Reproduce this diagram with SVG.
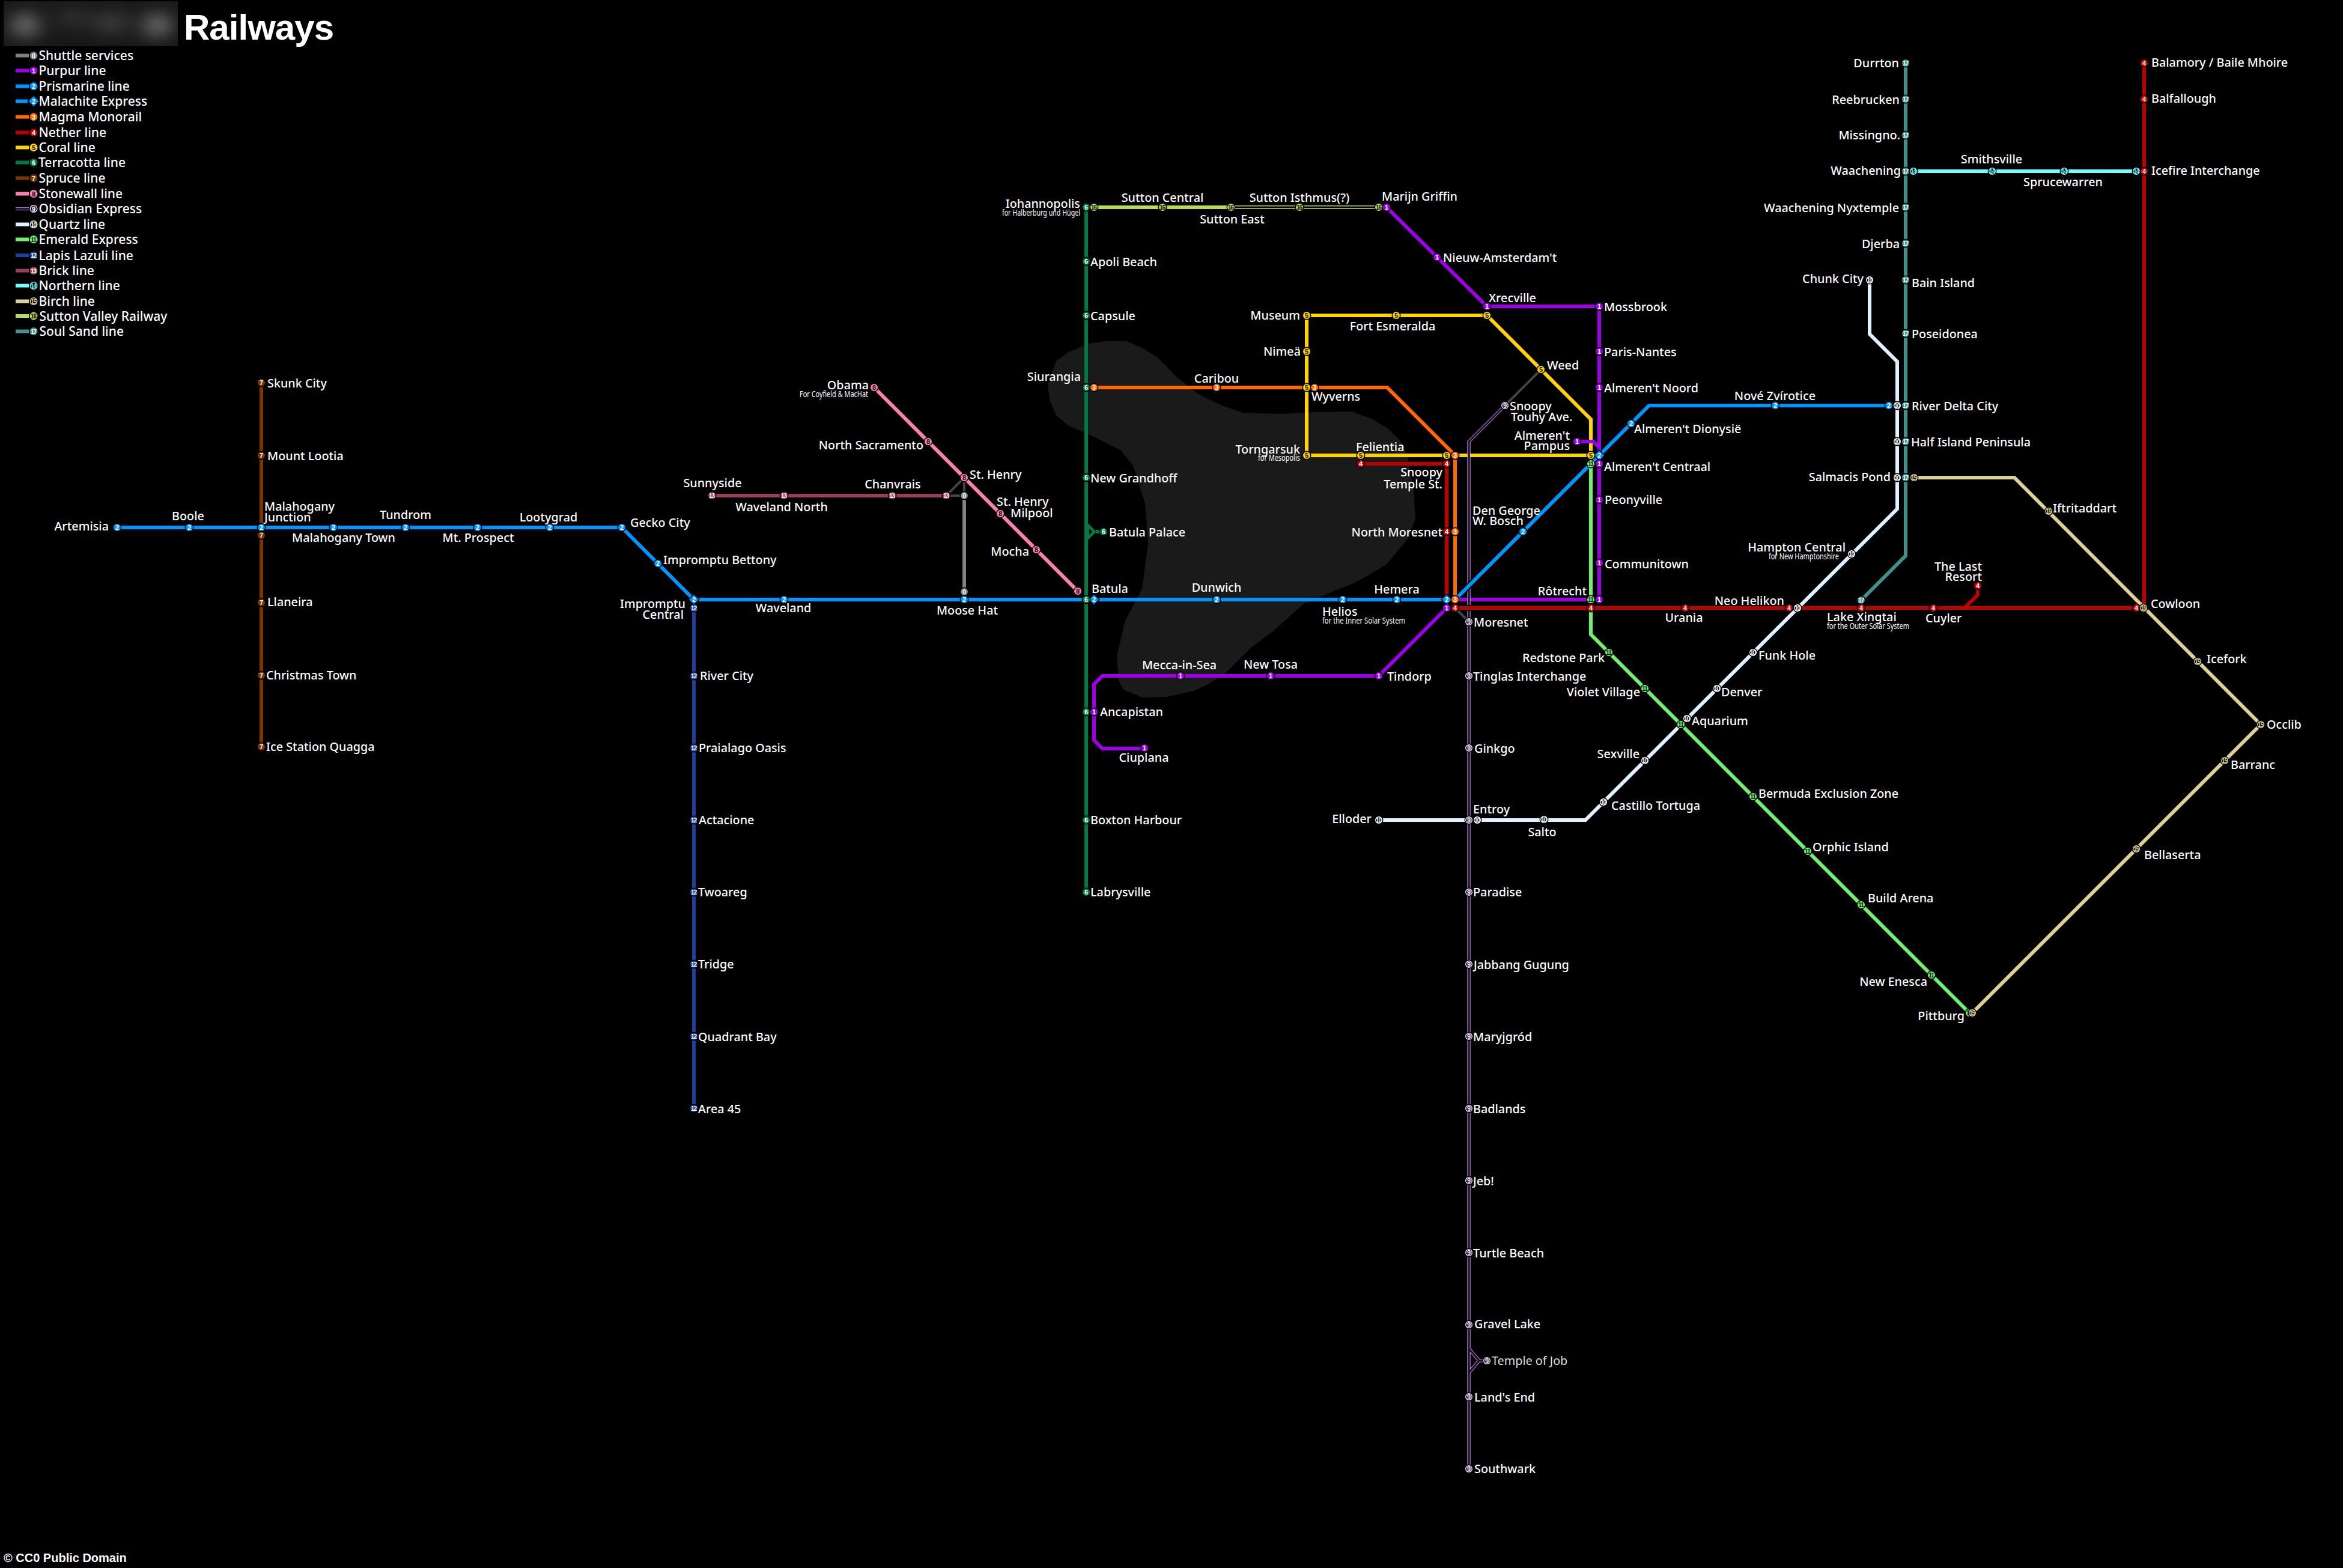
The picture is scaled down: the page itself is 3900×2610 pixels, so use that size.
<svg xmlns="http://www.w3.org/2000/svg" width="3900" height="2610" viewBox="0 0 3900 2610">
<style>
text{font-family:"Noto Sans","Liberation Sans",sans-serif}
.l{fill:#fff;font-size:19.8px;font-weight:500}
.s{fill:#fff;font-size:14px}
.m{text-anchor:middle}
.e{text-anchor:end}
.lg{fill:#fff;font-size:21px;font-weight:500}
.d{font-family:"Liberation Sans",sans-serif;font-weight:700;font-size:11px;text-anchor:middle;fill:#fff}
.t{font-size:10px;letter-spacing:-1px}
circle,polygon{stroke:#000;stroke-width:3px;paint-order:stroke}
.i{stroke:none;fill:#000}
.k{fill:none;stroke-linejoin:miter;stroke-width:6px}
.c0{stroke:#808080}.c1{stroke:#9b00e6}.c2{stroke:#0096ff}.c3{stroke:#ff6a00}.c4{stroke:#c00000}.c5{stroke:#ffd500}.c6{stroke:#007a45}.c7{stroke:#7a3600}.c8{stroke:#ff80b0}.c9{stroke:#c8b8d8;stroke-width:5.2px}.c10{stroke:#e0f2ff}.c11{stroke:#70f070}.c12{stroke:#2040a0}.c13{stroke:#964055}.c14{stroke:#70ffff}.c15{stroke:#dcd296}.c16{stroke:#b8dc5a}.c17{stroke:#409090}
.in9{stroke:#2b0a3d;stroke-width:3.6px}.in16{stroke:#000;stroke-width:3px}.halo{stroke:#000;stroke-width:10px}.link{stroke:#444;stroke-width:4px}
.n0>circle:first-of-type{fill:#808080}.n1>circle:first-of-type{fill:#9b00e6}.n2>circle:first-of-type,.n2>polygon{fill:#0096ff}.n3>circle:first-of-type{fill:#ff6a00}.n4>circle:first-of-type{fill:#c00000}.n5>circle:first-of-type{fill:#ffd500}.n6>circle:first-of-type{fill:#007a45}.n7>circle:first-of-type{fill:#7a3600}.n8>circle:first-of-type{fill:#ff80b0}.n9>circle:first-of-type{fill:#e8dcf0}.n10>circle:first-of-type{fill:#fff}.n11>circle:first-of-type{fill:#70f070}.n12>circle:first-of-type{fill:#2040a0}.n13>circle:first-of-type{fill:#964055}.n14>circle:first-of-type{fill:#70ffff}.n15>circle:first-of-type{fill:#dcd296}.n16>circle:first-of-type{fill:#b8dc5a}.n17>circle:first-of-type{fill:#409090}
.n5 .d,.n8 .d,.n11 .d,.n16 .d{fill:#111}
.n9 .i{fill:#2b0a3d}.n14 .d{fill:#70ffff}.n15 .d{fill:#dcd296}
</style>
<defs>
<filter id="blur" x="-50%" y="-50%" width="200%" height="200%"><feGaussianBlur stdDeviation="15"/></filter>
<clipPath id="blockclip"><rect x="6" y="2" width="290" height="75"/></clipPath>
</defs>
<rect width="3900" height="2610" fill="#000"/>
<path id="island" fill="#1a1a1a" d="M1744,642 L1758,601 1779,586 1812,572 1840,568 1875,568 1901,579 1927,595 1957,626 1993,655 2034,675 2069,687 2131,689 2187,686 2250,685 2283,697 2310,713 2330,733 2343,760 2353,817 2356,863 2343,897 2307,940 2270,962 2250,972 2170,1005 2120,1050 2080,1080 2040,1120 2013,1138 1987,1150 1942,1160 1902,1161 1870,1148 1862,1133 1859,1093 1861,1083 1873,1033 1901,980 1911,905 1906,838 1886,775 1865,749 1819,726 1779,709 1758,691 1748,668 Z"/>
<g id="title">
<g clip-path="url(#blockclip)"><rect x="6" y="2" width="290" height="75" fill="#181818"/><g filter="url(#blur)" fill="#808080"><ellipse cx="42" cy="42" rx="26" ry="15"/><ellipse cx="262" cy="42" rx="26" ry="15"/><ellipse cx="120" cy="30" rx="30" ry="10" fill="#3c3c3c"/><ellipse cx="185" cy="38" rx="35" ry="12" fill="#484848"/></g></g>
<text x="306" y="66" font-size="60" font-weight="700" fill="#fff" textLength="250" style="font-family:'Liberation Sans',sans-serif">Railways</text>
</g>
<g id="legend">
<g id="lg0" class="n0"><path class="k c0" d="M26,92.5H48"/><circle cx="56" cy="92.5" r="6.5"/><text class="d" x="56" y="96.5">0</text><text class="lg" x="64.5" y="100">Shuttle services</text></g>
<g id="lg1" class="n1"><path class="k c1" d="M26,117.5H48"/><circle cx="56" cy="117.5" r="6.5"/><text class="d" x="56" y="121.5">1</text><text class="lg" x="64.5" y="125">Purpur line</text></g>
<g id="lg2" class="n2"><path class="k c2" d="M26,143.5H48"/><circle cx="56" cy="143.5" r="6.5"/><text class="d" x="56" y="147.5">2</text><text class="lg" x="64.5" y="151">Prismarine line</text></g>
<g id="lg2x" class="n2"><path class="k c2" d="M26,168.5H46"/><polygon points="56,160 64.5,168.5 56,177 47.5,168.5"/><text class="d" x="56" y="172.5">2</text><text class="lg" x="64.5" y="176">Malachite Express</text></g>
<g id="lg3" class="n3"><path class="k c3" d="M26,194.5H48"/><circle cx="56" cy="194.5" r="6.5"/><text class="d" x="56" y="198.5">3</text><text class="lg" x="64.5" y="202">Magma Monorail</text></g>
<g id="lg4" class="n4"><path class="k c4" d="M26,220.5H48"/><circle cx="56" cy="220.5" r="6.5"/><text class="d" x="56" y="224.5">4</text><text class="lg" x="64.5" y="228">Nether line</text></g>
<g id="lg5" class="n5"><path class="k c5" d="M26,245.5H48"/><circle cx="56" cy="245.5" r="6.5"/><text class="d" x="56" y="249.5">5</text><text class="lg" x="64.5" y="253">Coral line</text></g>
<g id="lg6" class="n6"><path class="k c6" d="M26,270.5H48"/><circle cx="56" cy="270.5" r="6.5"/><text class="d" x="56" y="274.5">6</text><text class="lg" x="64" y="278">Terracotta line</text></g>
<g id="lg7" class="n7"><path class="k c7" d="M26,296.5H48"/><circle cx="56" cy="296.5" r="6.5"/><text class="d" x="56" y="300.5">7</text><text class="lg" x="64.5" y="304">Spruce line</text></g>
<g id="lg8" class="n8"><path class="k c8" d="M26,322.5H48"/><circle cx="56" cy="322.5" r="6.5"/><text class="d" x="56" y="326.5">8</text><text class="lg" x="64.5" y="330">Stonewall line</text></g>
<g id="lg9" class="n9"><path class="k c9" d="M26,347.5H48"/><path class="k in9" d="M26,347.5H48"/><circle cx="56" cy="347.5" r="6.5"/><circle class="i" cx="56" cy="347.5" r="5"/><text class="d" x="56" y="351.5">9</text><text class="lg" x="64.5" y="355">Obsidian Express</text></g>
<g id="lg10" class="n10"><path class="k c10" d="M26,373.5H48"/><circle cx="56" cy="373.5" r="6.5"/><circle class="i" cx="56" cy="373.5" r="5"/><text class="d t" x="55.5" y="377.5">10</text><text class="lg" x="64.5" y="381">Quartz line</text></g>
<g id="lg11" class="n11"><path class="k c11" d="M26,398.5H48"/><circle cx="56" cy="398.5" r="6.5"/><text class="d t" x="55.5" y="402.5">11</text><text class="lg" x="64.5" y="406">Emerald Express</text></g>
<g id="lg12" class="n12"><path class="k c12" d="M26,425H48"/><circle cx="56" cy="425" r="6.5"/><text class="d t" x="55.5" y="429">12</text><text class="lg" x="64.5" y="432.5">Lapis Lazuli line</text></g>
<g id="lg13" class="n13"><path class="k c13" d="M26,450.5H48"/><circle cx="56" cy="450.5" r="6.5"/><text class="d t" x="55.5" y="454.5">13</text><text class="lg" x="64.5" y="458">Brick line</text></g>
<g id="lg14" class="n14"><path class="k c14" d="M26,475.5H48"/><circle cx="56" cy="475.5" r="6.5"/><circle class="i" cx="56" cy="475.5" r="5"/><text class="d t" x="55.5" y="479.5">14</text><text class="lg" x="64.5" y="483">Northern line</text></g>
<g id="lg15" class="n15"><path class="k c15" d="M26,501.5H48"/><circle cx="56" cy="501.5" r="6.5"/><circle class="i" cx="56" cy="501.5" r="5"/><text class="d t" x="55.5" y="505.5">15</text><text class="lg" x="64.5" y="509">Birch line</text></g>
<g id="lg16" class="n16"><path class="k c16" d="M26,526H48"/><circle cx="56" cy="526" r="6.5"/><text class="d t" x="55.5" y="530">16</text><text class="lg" x="65.5" y="533.5">Sutton Valley Railway</text></g>
<g id="lg17" class="n17"><path class="k c17" d="M26,551.5H48"/><circle cx="56" cy="551.5" r="6.5"/><text class="d t" x="55.5" y="555.5">17</text><text class="lg" x="65.5" y="559">Soul Sand line</text></g>
</g>
<g id="connectors">
<path class="k c5" d="M2175,525V758M2175,525H2475L2648,698V758M2175,758H2648"/>
<path class="k c1" d="M2308,345L2475,510H2662V998H2422M2625,735H2652L2662,745M2408,1012L2295,1125H1835L1821,1139V1232L1835,1246H1905"/>
<path class="k c6" d="M1808,345V1485M1824,885H1837"/>
<path fill="#007a45" fill-rule="evenodd" d="M1808,868L1825,885L1808,902ZM1813,880V890L1818,885Z"/>
<path class="k c3" d="M1821,645H2309L2422,758V998"/>
<path class="k c4" d="M2265,772H2408V998"/>
<path class="k c7" d="M435,637V1243"/>
<path class="k c8" d="M1455,645L1794,984"/>
<path class="k c12" d="M1155,1012V1845"/>
<path class="k c13" d="M1185,825H1575"/>
<path class="k c0" d="M1605,825V985"/>
<path class="link" fill="none" d="M1575,825H1605V795L1575,825M2505,675L2565,615M2422,1012L2445,1035"/>
<path class="k c16" d="M1821,345H2295"/>
<path class="k in16" d="M2056,345H2295"/>
<path class="k c10" d="M2295,1365H2639L3158,847V602L3112,556V466"/>
<path class="k c11" d="M2648,772V1056L3278,1686"/>
<path class="k c14" d="M3185,285H3556"/>
<path class="k c15" d="M3186,795H3353L3763,1206L3283,1686"/>
<path class="k c17" d="M3172,105V925L3098,999"/>
<path class="k c9" d="M2445,2445V735L2505,675M2445,2245L2462,2265L2445,2285M2462,2265H2470"/>
<path class="k in9" d="M2445,2445V735L2505,675M2445,2245L2462,2265L2445,2285M2462,2265H2470"/>
<path class="halo" fill="none" d="M2436,1012H2454M2430,990L2460,960"/>
<path class="k c4" d="M2422,1012H3569V105M3270,1012L3292,990V975"/>
<path class="k c2" d="M195,878H1035L1155,998H2422L2745,675H3144"/>
</g>
<g id="nodes">
<g id="artemisia" class="n2"><circle cx="195" cy="878" r="6"/><text class="d" x="195" y="882">2</text><text class="l e" x="181" y="883">Artemisia</text></g>
<g id="boole" class="n2"><circle cx="315" cy="878" r="6"/><text class="d" x="315" y="882">2</text><text class="l m" x="313" y="866">Boole</text></g>
<g id="malahogany-junction" class="n2"><circle cx="435" cy="878" r="6"/><text class="d" x="435" y="882">2</text><text class="l" x="440" y="850">Malahogany</text><text class="l" x="440" y="868">Junction</text></g>
<g id="malahogany-junction-7" class="n7"><circle cx="435" cy="891" r="6"/><text class="d" x="435" y="895">7</text></g>
<g id="malahogany-town" class="n2"><circle cx="555" cy="878" r="6"/><text class="d" x="555" y="882">2</text><text class="l m" x="572" y="902">Malahogany Town</text></g>
<g id="tundrom" class="n2"><circle cx="675" cy="878" r="6"/><text class="d" x="675" y="882">2</text><text class="l m" x="675" y="864">Tundrom</text></g>
<g id="mt-prospect" class="n2"><circle cx="795" cy="878" r="6"/><text class="d" x="795" y="882">2</text><text class="l m" x="796" y="902">Mt. Prospect</text></g>
<g id="lootygrad" class="n2"><circle cx="915" cy="878" r="6"/><text class="d" x="915" y="882">2</text><text class="l m" x="913" y="868">Lootygrad</text></g>
<g id="gecko-city" class="n2"><circle cx="1035" cy="878" r="6"/><text class="d" x="1035" y="882">2</text><text class="l" x="1049" y="877">Gecko City</text></g>
<g id="impromptu-bettony" class="n2"><circle cx="1095" cy="938" r="6"/><text class="d" x="1095" y="942">2</text><text class="l" x="1104" y="939">Impromptu Bettony</text></g>
<g id="impromptu-central" class="n2"><polygon points="1155,990 1163,998 1155,1006 1147,998"/><text class="d" x="1155" y="1002">2</text><text class="l e" x="1141" y="1012">Impromptu</text><text class="l e" x="1138" y="1030">Central</text></g>
<g id="impromptu-central-12" class="n12"><circle cx="1155" cy="1012" r="6"/><text class="d t" x="1154.5" y="1016">12</text></g>
<g id="waveland" class="n2"><circle cx="1305" cy="998" r="6"/><text class="d" x="1305" y="1002">2</text><text class="l m" x="1304" y="1019">Waveland</text></g>
<g id="moose-hat" class="n2"><circle cx="1605" cy="998" r="6"/><text class="d" x="1605" y="1002">2</text><text class="l m" x="1610" y="1023">Moose Hat</text></g>
<g id="moose-hat-0" class="n0"><circle cx="1605" cy="985" r="6"/><text class="d" x="1605" y="989">0</text></g>
<g id="st-henry-0" class="n0"><circle cx="1605" cy="825" r="6"/><text class="d" x="1605" y="829">0</text></g>
<g id="batula-2" class="n2"><polygon points="1821,990 1829,998 1821,1006 1813,998"/><text class="d" x="1821" y="1002">2</text></g>
<g id="batula" class="n6"><circle cx="1808" cy="998" r="6"/><text class="d" x="1808" y="1002">6</text><text class="l" x="1817" y="987">Batula</text></g>
<g id="dunwich" class="n2"><circle cx="2025" cy="998" r="6"/><text class="d" x="2025" y="1002">2</text><text class="l m" x="2025" y="985">Dunwich</text></g>
<g id="helios" class="n2"><circle cx="2235" cy="998" r="6"/><text class="d" x="2235" y="1002">2</text><text class="l" x="2201" y="1025">Helios</text><text class="s" x="2201" y="1038" textLength="138" lengthAdjust="spacingAndGlyphs">for the Inner Solar System</text></g>
<g id="hemera" class="n2"><circle cx="2325" cy="998" r="6"/><text class="d" x="2325" y="1002">2</text><text class="l m" x="2325" y="988">Hemera</text></g>
<g id="moresnet-2" class="n2"><polygon points="2408,990 2416,998 2408,1006 2400,998"/><text class="d" x="2408" y="1002">2</text></g>
<g id="moresnet-3" class="n3"><circle cx="2422" cy="998" r="6"/><text class="d" x="2422" y="1002">3</text></g>
<g id="moresnet-1" class="n1"><circle cx="2408" cy="1012" r="6"/><text class="d" x="2408" y="1016">1</text></g>
<g id="moresnet-4" class="n4"><circle cx="2422" cy="1012" r="6"/><text class="d" x="2422" y="1016">4</text></g>
<g id="moresnet" class="n9"><circle cx="2445" cy="1035" r="6"/><circle class="i" cx="2445" cy="1035" r="4.6"/><text class="d" x="2445" y="1039">9</text><text class="l" x="2453" y="1043">Moresnet</text></g>
<g id="den-george" class="n2"><circle cx="2535" cy="885" r="6"/><text class="d" x="2535" y="889">2</text><text class="l" x="2451" y="857">Den George</text><text class="l" x="2451" y="874">W. Bosch</text></g>
<g id="almerent-pampus-2" class="n2"><polygon points="2662,750 2670,758 2662,766 2654,758"/><text class="d" x="2662" y="762">2</text></g>
<g id="almerent-dionysie" class="n2"><circle cx="2715" cy="705" r="6"/><text class="d" x="2715" y="709">2</text><text class="l" x="2720" y="721">Almeren't Dionysië</text></g>
<g id="nove-zvirotice" class="n2"><circle cx="2955" cy="675" r="6"/><text class="d" x="2955" y="679">2</text><text class="l e" x="3022" y="666">Nové Zvírotice</text></g>
<g id="river-delta-2" class="n2"><circle cx="3144" cy="675" r="6"/><text class="d" x="3144" y="679">2</text></g>
<g id="river-delta-10" class="n10"><circle cx="3158" cy="675" r="6"/><circle class="i" cx="3158" cy="675" r="4.6"/><text class="d t" x="3157.5" y="679">10</text></g>
<g id="river-delta" class="n17"><circle cx="3172" cy="675" r="6"/><text class="d t" x="3171.5" y="679">17</text><text class="l" x="3182" y="683">River Delta City</text></g>
<g id="half-island-10" class="n10"><circle cx="3158" cy="735" r="6"/><circle class="i" cx="3158" cy="735" r="4.6"/><text class="d t" x="3157.5" y="739">10</text></g>
<g id="half-island" class="n17"><circle cx="3172" cy="735" r="6"/><text class="d t" x="3171.5" y="739">17</text><text class="l" x="3181" y="743">Half Island Peninsula</text></g>
<g id="salmacis" class="n10"><circle cx="3158" cy="795" r="6"/><circle class="i" cx="3158" cy="795" r="4.6"/><text class="d t" x="3157.5" y="799">10</text><text class="l e" x="3147" y="801">Salmacis Pond</text></g>
<g id="salmacis-17" class="n17"><circle cx="3172" cy="795" r="6"/><text class="d t" x="3171.5" y="799">17</text></g>
<g id="salmacis-15" class="n15"><circle cx="3186" cy="795" r="6"/><circle class="i" cx="3186" cy="795" r="4.6"/><text class="d t" x="3185.5" y="799">15</text></g>
<g id="hampton-central" class="n10"><circle cx="3082" cy="922" r="6"/><circle class="i" cx="3082" cy="922" r="4.6"/><text class="d t" x="3081.5" y="926">10</text><text class="l e" x="3072" y="918">Hampton Central</text><text class="s" x="2944" y="931" textLength="117" lengthAdjust="spacingAndGlyphs">for New Hamptonshire</text></g>
<g id="neo-helikon" class="n4"><circle cx="2978" cy="1012" r="6"/><text class="d" x="2978" y="1016">4</text><text class="l e" x="2970" y="1007">Neo Helikon</text></g>
<g id="neo-helikon-10" class="n10"><circle cx="2992" cy="1012" r="6"/><circle class="i" cx="2992" cy="1012" r="4.6"/><text class="d t" x="2991.5" y="1016">10</text></g>
<g id="funk-hole" class="n10"><circle cx="2918" cy="1086" r="6"/><circle class="i" cx="2918" cy="1086" r="4.6"/><text class="d t" x="2917.5" y="1090">10</text><text class="l" x="2927" y="1098">Funk Hole</text></g>
<g id="denver" class="n10"><circle cx="2858" cy="1146" r="6"/><circle class="i" cx="2858" cy="1146" r="4.6"/><text class="d t" x="2857.5" y="1150">10</text><text class="l" x="2865" y="1159">Denver</text></g>
<g id="aquarium-10" class="n10"><circle cx="2808" cy="1196" r="6"/><circle class="i" cx="2808" cy="1196" r="4.6"/><text class="d t" x="2807.5" y="1200">10</text><text class="l" x="2816" y="1207">Aquarium</text></g>
<g id="aquarium-11" class="n11"><circle cx="2798" cy="1206" r="6"/><text class="d t" x="2797.5" y="1210">11</text></g>
<g id="sexville" class="n10"><circle cx="2738" cy="1266" r="6"/><circle class="i" cx="2738" cy="1266" r="4.6"/><text class="d t" x="2737.5" y="1270">10</text><text class="l e" x="2729" y="1262">Sexville</text></g>
<g id="castillo-tortuga" class="n10"><circle cx="2669" cy="1335" r="6"/><circle class="i" cx="2669" cy="1335" r="4.6"/><text class="d t" x="2668.5" y="1339">10</text><text class="l" x="2682" y="1348">Castillo Tortuga</text></g>
<g id="salto" class="n10"><circle cx="2570" cy="1364" r="6"/><circle class="i" cx="2570" cy="1364" r="4.6"/><text class="d t" x="2569.5" y="1368">10</text><text class="l m" x="2567" y="1392">Salto</text></g>
<g id="entroy-10" class="n10"><circle cx="2459" cy="1365" r="6"/><circle class="i" cx="2459" cy="1365" r="4.6"/><text class="d t" x="2458.5" y="1369">10</text></g>
<g id="elloder" class="n10"><circle cx="2295" cy="1365" r="6"/><circle class="i" cx="2295" cy="1365" r="4.6"/><text class="d t" x="2294.5" y="1369">10</text><text class="l e" x="2283" y="1370">Elloder</text></g>
<g id="chunk-city" class="n10"><circle cx="3112" cy="466" r="6"/><circle class="i" cx="3112" cy="466" r="4.6"/><text class="d t" x="3111.5" y="470">10</text><text class="l e" x="3102" y="471">Chunk City</text></g>
<g id="tinglas" class="n9"><circle cx="2445" cy="1125" r="6"/><circle class="i" cx="2445" cy="1125" r="4.6"/><text class="d" x="2445" y="1129">9</text><text class="l" x="2452" y="1133">Tinglas Interchange</text></g>
<g id="ginkgo" class="n9"><circle cx="2445" cy="1245" r="6"/><circle class="i" cx="2445" cy="1245" r="4.6"/><text class="d" x="2445" y="1249">9</text><text class="l" x="2454" y="1253">Ginkgo</text></g>
<g id="entroy" class="n9"><circle cx="2445" cy="1365" r="6"/><circle class="i" cx="2445" cy="1365" r="4.6"/><text class="d" x="2445" y="1369">9</text><text class="l" x="2452" y="1354">Entroy</text></g>
<g id="paradise" class="n9"><circle cx="2445" cy="1485" r="6"/><circle class="i" cx="2445" cy="1485" r="4.6"/><text class="d" x="2445" y="1489">9</text><text class="l" x="2452" y="1492">Paradise</text></g>
<g id="jabbang-gugung" class="n9"><circle cx="2445" cy="1605" r="6"/><circle class="i" cx="2445" cy="1605" r="4.6"/><text class="d" x="2445" y="1609">9</text><text class="l" x="2453" y="1613">Jabbang Gugung</text></g>
<g id="maryjgrod" class="n9"><circle cx="2445" cy="1725" r="6"/><circle class="i" cx="2445" cy="1725" r="4.6"/><text class="d" x="2445" y="1729">9</text><text class="l" x="2452" y="1733">Maryjgród</text></g>
<g id="badlands" class="n9"><circle cx="2445" cy="1845" r="6"/><circle class="i" cx="2445" cy="1845" r="4.6"/><text class="d" x="2445" y="1849">9</text><text class="l" x="2452" y="1853">Badlands</text></g>
<g id="jeb" class="n9"><circle cx="2445" cy="1965" r="6"/><circle class="i" cx="2445" cy="1965" r="4.6"/><text class="d" x="2445" y="1969">9</text><text class="l" x="2452" y="1973">Jeb!</text></g>
<g id="turtle-beach" class="n9"><circle cx="2445" cy="2085" r="6"/><circle class="i" cx="2445" cy="2085" r="4.6"/><text class="d" x="2445" y="2089">9</text><text class="l" x="2452" y="2093">Turtle Beach</text></g>
<g id="gravel-lake" class="n9"><circle cx="2445" cy="2205" r="6"/><circle class="i" cx="2445" cy="2205" r="4.6"/><text class="d" x="2445" y="2209">9</text><text class="l" x="2454" y="2211">Gravel Lake</text></g>
<g id="temple-of-job" class="n9"><circle cx="2475" cy="2265" r="6"/><circle class="i" cx="2475" cy="2265" r="4.6"/><text class="d" x="2475" y="2269">9</text><text class="l" x="2483" y="2272" style="font-weight:400;fill:#ddd">Temple of Job</text></g>
<g id="lands-end" class="n9"><circle cx="2445" cy="2325" r="6"/><circle class="i" cx="2445" cy="2325" r="4.6"/><text class="d" x="2445" y="2329">9</text><text class="l" x="2454" y="2333">Land's End</text></g>
<g id="southwark" class="n9"><circle cx="2445" cy="2445" r="6"/><circle class="i" cx="2445" cy="2445" r="4.6"/><text class="d" x="2445" y="2449">9</text><text class="l" x="2454" y="2452">Southwark</text></g>
<g id="snoopy-touhy" class="n9"><circle cx="2505" cy="675" r="6"/><circle class="i" cx="2505" cy="675" r="4.6"/><text class="d" x="2505" y="679">9</text><text class="l" x="2513" y="683">Snoopy</text><text class="l" x="2515" y="701">Touhy Ave.</text></g>
<g id="skunk-city" class="n7"><circle cx="435" cy="637" r="6"/><text class="d" x="435" y="641">7</text><text class="l" x="445" y="645">Skunk City</text></g>
<g id="mount-lootia" class="n7"><circle cx="435" cy="758" r="6"/><text class="d" x="435" y="762">7</text><text class="l" x="445" y="766">Mount Lootia</text></g>
<g id="llaneira" class="n7"><circle cx="435" cy="1003" r="6"/><text class="d" x="435" y="1007">7</text><text class="l" x="445" y="1009">Llaneira</text></g>
<g id="christmas-town" class="n7"><circle cx="435" cy="1124" r="6"/><text class="d" x="435" y="1128">7</text><text class="l" x="443" y="1131">Christmas Town</text></g>
<g id="ice-station-quagga" class="n7"><circle cx="435" cy="1243" r="6"/><text class="d" x="435" y="1247">7</text><text class="l" x="443" y="1250">Ice Station Quagga</text></g>
<g id="river-city" class="n12"><circle cx="1155" cy="1125" r="6"/><text class="d t" x="1154.5" y="1129">12</text><text class="l" x="1165" y="1132">River City</text></g>
<g id="praialago" class="n12"><circle cx="1155" cy="1245" r="6"/><text class="d t" x="1154.5" y="1249">12</text><text class="l" x="1163" y="1252">Praialago Oasis</text></g>
<g id="actacione" class="n12"><circle cx="1155" cy="1365" r="6"/><text class="d t" x="1154.5" y="1369">12</text><text class="l" x="1163" y="1372">Actacione</text></g>
<g id="twoareg" class="n12"><circle cx="1155" cy="1485" r="6"/><text class="d t" x="1154.5" y="1489">12</text><text class="l" x="1162" y="1492">Twoareg</text></g>
<g id="tridge" class="n12"><circle cx="1155" cy="1605" r="6"/><text class="d t" x="1154.5" y="1609">12</text><text class="l" x="1162" y="1612">Tridge</text></g>
<g id="quadrant-bay" class="n12"><circle cx="1155" cy="1725" r="6"/><text class="d t" x="1154.5" y="1729">12</text><text class="l" x="1162" y="1733">Quadrant Bay</text></g>
<g id="area-45" class="n12"><circle cx="1155" cy="1845" r="6"/><text class="d t" x="1154.5" y="1849">12</text><text class="l" x="1162" y="1853">Area 45</text></g>
<g id="sunnyside" class="n13"><circle cx="1185" cy="825" r="6"/><text class="d t" x="1184.5" y="829">13</text><text class="l m" x="1186" y="811">Sunnyside</text></g>
<g id="waveland-north" class="n13"><circle cx="1305" cy="825" r="6"/><text class="d t" x="1304.5" y="829">13</text><text class="l m" x="1301" y="851">Waveland North</text></g>
<g id="chanvrais" class="n13"><circle cx="1485" cy="825" r="6"/><text class="d t" x="1484.5" y="829">13</text><text class="l m" x="1486" y="813">Chanvrais</text></g>
<g id="st-henry-13" class="n13"><circle cx="1575" cy="825" r="6"/><text class="d t" x="1574.5" y="829">13</text></g>
<g id="obama" class="n8"><circle cx="1455" cy="645" r="6"/><text class="d" x="1455" y="649">8</text><text class="l e" x="1446" y="648">Obama</text><text class="s" x="1331" y="661" textLength="114" lengthAdjust="spacingAndGlyphs">For Coyfield &amp; MacHat</text></g>
<g id="north-sacramento" class="n8"><circle cx="1545" cy="735" r="6"/><text class="d" x="1545" y="739">8</text><text class="l e" x="1537" y="748">North Sacramento</text></g>
<g id="st-henry" class="n8"><circle cx="1605" cy="795" r="6"/><text class="d" x="1605" y="799">8</text><text class="l" x="1614" y="797">St. Henry</text></g>
<g id="st-henry-milpool" class="n8"><circle cx="1665" cy="855" r="6"/><text class="d" x="1665" y="859">8</text><text class="l" x="1659" y="842">St. Henry</text><text class="l" x="1682" y="861">Milpool</text></g>
<g id="mocha" class="n8"><circle cx="1725" cy="915" r="6"/><text class="d" x="1725" y="919">8</text><text class="l e" x="1713" y="925">Mocha</text></g>
<g id="batula-8" class="n8"><circle cx="1794" cy="984" r="6"/><text class="d" x="1794" y="988">8</text></g>
<g id="iohannopolis" class="n6"><circle cx="1808" cy="345" r="6"/><text class="d" x="1808" y="349">6</text><text class="l e" x="1798" y="346">Iohannopolis</text><text class="s" x="1668" y="359" textLength="130" lengthAdjust="spacingAndGlyphs">for Halberburg und Hügel</text></g>
<g id="iohannopolis-16" class="n16"><circle cx="1821" cy="345" r="6"/><text class="d t" x="1820.5" y="349">16</text></g>
<g id="sutton-central" class="n16"><circle cx="1935" cy="345" r="6"/><text class="d t" x="1934.5" y="349">16</text><text class="l m" x="1935" y="336">Sutton Central</text></g>
<g id="sutton-east" class="n16"><circle cx="2049" cy="345" r="6"/><text class="d t" x="2048.5" y="349">16</text><text class="l m" x="2051" y="372">Sutton East</text></g>
<g id="sutton-isthmus" class="n16"><circle cx="2163" cy="345" r="6"/><text class="d t" x="2162.5" y="349">16</text><text class="l m" x="2163" y="336">Sutton Isthmus(?)</text></g>
<g id="marijn-griffin-16" class="n16"><circle cx="2295" cy="345" r="6"/><text class="d t" x="2294.5" y="349">16</text></g>
<g id="marijn-griffin" class="n1"><circle cx="2308" cy="345" r="6"/><text class="d" x="2308" y="349">1</text><text class="l" x="2300" y="334">Marijn Griffin</text></g>
<g id="nieuw-amsterdamt" class="n1"><circle cx="2392" cy="428" r="6"/><text class="d" x="2392" y="432">1</text><text class="l" x="2402" y="436">Nieuw-Amsterdam't</text></g>
<g id="xrecville-1" class="n1"><circle cx="2475" cy="510" r="6"/><text class="d" x="2475" y="514">1</text><text class="l" x="2478" y="503">Xrecville</text></g>
<g id="xrecville-5" class="n5"><circle cx="2475" cy="525" r="6"/><text class="d" x="2475" y="529">5</text></g>
<g id="mossbrook" class="n1"><circle cx="2662" cy="510" r="6"/><text class="d" x="2662" y="514">1</text><text class="l" x="2670" y="518">Mossbrook</text></g>
<g id="paris-nantes" class="n1"><circle cx="2662" cy="585" r="6"/><text class="d" x="2662" y="589">1</text><text class="l" x="2670" y="593">Paris-Nantes</text></g>
<g id="almerent-noord" class="n1"><circle cx="2662" cy="645" r="6"/><text class="d" x="2662" y="649">1</text><text class="l" x="2670" y="653">Almeren't Noord</text></g>
<g id="almerent-pampus" class="n1"><circle cx="2625" cy="735" r="6"/><text class="d" x="2625" y="739">1</text><text class="l e" x="2613" y="732">Almeren't</text><text class="l e" x="2613" y="749">Pampus</text></g>
<g id="almerent-centraal" class="n1"><circle cx="2662" cy="772" r="6"/><text class="d" x="2662" y="776">1</text><text class="l" x="2670" y="784">Almeren't Centraal</text></g>
<g id="peonyville" class="n1"><circle cx="2662" cy="832" r="6"/><text class="d" x="2662" y="836">1</text><text class="l" x="2671" y="839">Peonyville</text></g>
<g id="communitown" class="n1"><circle cx="2662" cy="937" r="6"/><text class="d" x="2662" y="941">1</text><text class="l" x="2671" y="946">Communitown</text></g>
<g id="rotrecht-1" class="n1"><circle cx="2662" cy="998" r="6"/><text class="d" x="2662" y="1002">1</text></g>
<g id="rotrecht" class="n11"><circle cx="2648" cy="998" r="6"/><text class="d t" x="2647.5" y="1002">11</text><text class="l e" x="2641" y="991">Rôtrecht</text></g>
<g id="almerent-centraal-4" class="n4"><circle cx="2648" cy="1012" r="6"/><text class="d" x="2648" y="1016">4</text></g>
<g id="urania" class="n4"><circle cx="2805" cy="1012" r="6"/><text class="d" x="2805" y="1016">4</text><text class="l m" x="2803" y="1035">Urania</text></g>
<g id="lake-xingtai-17" class="n17"><circle cx="3098" cy="999" r="6"/><text class="d t" x="3097.5" y="1003">17</text></g>
<g id="lake-xingtai" class="n4"><circle cx="3098" cy="1012" r="6"/><text class="d" x="3098" y="1016">4</text><text class="l" x="3041" y="1034">Lake Xingtai</text><text class="s" x="3041" y="1047" textLength="137" lengthAdjust="spacingAndGlyphs">for the Outer Solar System</text></g>
<g id="cuyler" class="n4"><circle cx="3218" cy="1012" r="6"/><text class="d" x="3218" y="1016">4</text><text class="l" x="3205" y="1036">Cuyler</text></g>
<g id="last-resort" class="n4"><circle cx="3292" cy="975" r="6"/><text class="d" x="3292" y="979">4</text><text class="l e" x="3299" y="950">The Last</text><text class="l e" x="3299" y="967">Resort</text></g>
<g id="cowloon-4" class="n4"><circle cx="3556" cy="1012" r="6"/><text class="d" x="3556" y="1016">4</text></g>
<g id="cowloon" class="n15"><circle cx="3568" cy="1012" r="6"/><circle class="i" cx="3568" cy="1012" r="4.6"/><text class="d t" x="3567.5" y="1016">15</text><text class="l" x="3580" y="1012">Cowloon</text></g>
<g id="iftritaddart" class="n15"><circle cx="3410" cy="851" r="6"/><circle class="i" cx="3410" cy="851" r="4.6"/><text class="d t" x="3409.5" y="855">15</text><text class="l" x="3417" y="853">Iftritaddart</text></g>
<g id="icefork" class="n15"><circle cx="3658" cy="1101" r="6"/><circle class="i" cx="3658" cy="1101" r="4.6"/><text class="d t" x="3657.5" y="1105">15</text><text class="l" x="3673" y="1104">Icefork</text></g>
<g id="occlib" class="n15"><circle cx="3763" cy="1206" r="6"/><circle class="i" cx="3763" cy="1206" r="4.6"/><text class="d t" x="3762.5" y="1210">15</text><text class="l" x="3773" y="1213">Occlib</text></g>
<g id="barranc" class="n15"><circle cx="3703" cy="1266" r="6"/><circle class="i" cx="3703" cy="1266" r="4.6"/><text class="d t" x="3702.5" y="1270">15</text><text class="l" x="3713" y="1280">Barranc</text></g>
<g id="bellaserta" class="n15"><circle cx="3556" cy="1413" r="6"/><circle class="i" cx="3556" cy="1413" r="4.6"/><text class="d t" x="3555.5" y="1417">15</text><text class="l" x="3569" y="1430">Bellaserta</text></g>
<g id="pittburg-11" class="n11"><circle cx="3278" cy="1686" r="6"/><text class="d t" x="3277.5" y="1690">11</text><text class="l e" x="3270" y="1698">Pittburg</text></g>
<g id="pittburg-15" class="n15"><circle cx="3283" cy="1686" r="6"/><circle class="i" cx="3283" cy="1686" r="4.6"/><text class="d t" x="3282.5" y="1690">15</text></g>
<g id="redstone-park" class="n11"><circle cx="2678" cy="1086" r="6"/><text class="d t" x="2677.5" y="1090">11</text><text class="l e" x="2671" y="1102">Redstone Park</text></g>
<g id="violet-village" class="n11"><circle cx="2738" cy="1146" r="6"/><text class="d t" x="2737.5" y="1150">11</text><text class="l e" x="2730" y="1159">Violet Village</text></g>
<g id="bermuda" class="n11"><circle cx="2918" cy="1326" r="6"/><text class="d t" x="2917.5" y="1330">11</text><text class="l" x="2927" y="1328">Bermuda Exclusion Zone</text></g>
<g id="orphic-island" class="n11"><circle cx="3009" cy="1417" r="6"/><text class="d t" x="3008.5" y="1421">11</text><text class="l" x="3017" y="1417">Orphic Island</text></g>
<g id="build-arena" class="n11"><circle cx="3098" cy="1506" r="6"/><text class="d t" x="3097.5" y="1510">11</text><text class="l" x="3109" y="1502">Build Arena</text></g>
<g id="new-enesca" class="n11"><circle cx="3215" cy="1623" r="6"/><text class="d t" x="3214.5" y="1627">11</text><text class="l e" x="3208" y="1641">New Enesca</text></g>
<g id="felientia-5" class="n5"><circle cx="2265" cy="758" r="6"/><text class="d" x="2265" y="762">5</text><text class="l" x="2257" y="751">Felientia</text></g>
<g id="felientia-4" class="n4"><circle cx="2265" cy="772" r="6"/><text class="d" x="2265" y="776">4</text></g>
<g id="snoopy-temple" class="n4"><circle cx="2408" cy="772" r="6"/><text class="d" x="2408" y="776">4</text><text class="l e" x="2401" y="793">Snoopy</text><text class="l e" x="2401" y="813">Temple St.</text></g>
<g id="snoopy-5" class="n5"><circle cx="2408" cy="758" r="6"/><text class="d" x="2408" y="762">5</text></g>
<g id="snoopy-3" class="n3"><circle cx="2422" cy="758" r="6"/><text class="d" x="2422" y="762">3</text></g>
<g id="north-moresnet" class="n4"><circle cx="2408" cy="885" r="6"/><text class="d" x="2408" y="889">4</text><text class="l e" x="2401" y="893">North Moresnet</text></g>
<g id="north-moresnet-3" class="n3"><circle cx="2422" cy="885" r="6"/><text class="d" x="2422" y="889">3</text></g>
<g id="almerent-pampus-5" class="n5"><circle cx="2648" cy="758" r="6"/><text class="d" x="2648" y="762">5</text></g>
<g id="almerent-centraal-11" class="n11"><circle cx="2648" cy="772" r="6"/><text class="d t" x="2647.5" y="776">11</text></g>
<g id="weed" class="n5"><circle cx="2565" cy="615" r="6"/><text class="d" x="2565" y="619">5</text><text class="l" x="2575" y="615">Weed</text></g>
<g id="museum" class="n5"><circle cx="2175" cy="525" r="6"/><text class="d" x="2175" y="529">5</text><text class="l e" x="2164" y="532">Museum</text></g>
<g id="fort-esmeralda" class="n5"><circle cx="2324" cy="525" r="6"/><text class="d" x="2324" y="529">5</text><text class="l m" x="2318" y="550">Fort Esmeralda</text></g>
<g id="nimea" class="n5"><circle cx="2175" cy="585" r="6"/><text class="d" x="2175" y="589">5</text><text class="l e" x="2165" y="592">Nimeä</text></g>
<g id="wyverns-5" class="n5"><circle cx="2175" cy="645" r="6"/><text class="d" x="2175" y="649">5</text></g>
<g id="wyverns" class="n3"><circle cx="2188" cy="645" r="6"/><text class="d" x="2188" y="649">3</text><text class="l" x="2183" y="667">Wyverns</text></g>
<g id="caribou" class="n3"><circle cx="2025" cy="645" r="6"/><text class="d" x="2025" y="649">3</text><text class="l m" x="2025" y="637">Caribou</text></g>
<g id="torngarsuk" class="n5"><circle cx="2175" cy="758" r="6"/><text class="d" x="2175" y="762">5</text><text class="l e" x="2164" y="755">Torngarsuk</text><text class="s" x="2094" y="767" textLength="70" lengthAdjust="spacingAndGlyphs">for Mesopolis</text></g>
<g id="siurangia" class="n6"><circle cx="1808" cy="645" r="6"/><text class="d" x="1808" y="649">6</text><text class="l e" x="1799" y="634">Siurangia</text></g>
<g id="siurangia-3" class="n3"><circle cx="1821" cy="645" r="6"/><text class="d" x="1821" y="649">3</text></g>
<g id="apoli-beach" class="n6"><circle cx="1808" cy="435" r="6"/><text class="d" x="1808" y="439">6</text><text class="l" x="1815" y="443">Apoli Beach</text></g>
<g id="capsule" class="n6"><circle cx="1808" cy="525" r="6"/><text class="d" x="1808" y="529">6</text><text class="l" x="1815" y="533">Capsule</text></g>
<g id="new-grandhoff" class="n6"><circle cx="1808" cy="795" r="6"/><text class="d" x="1808" y="799">6</text><text class="l" x="1815" y="803">New Grandhoff</text></g>
<g id="batula-palace" class="n6"><circle cx="1837" cy="885" r="6"/><text class="d" x="1837" y="889">6</text><text class="l" x="1846" y="893">Batula Palace</text></g>
<g id="ancapistan-6" class="n6"><circle cx="1808" cy="1185" r="6"/><text class="d" x="1808" y="1189">6</text></g>
<g id="ancapistan" class="n1"><circle cx="1821" cy="1185" r="6"/><text class="d" x="1821" y="1189">1</text><text class="l" x="1831" y="1192">Ancapistan</text></g>
<g id="boxton-harbour" class="n6"><circle cx="1808" cy="1365" r="6"/><text class="d" x="1808" y="1369">6</text><text class="l" x="1815" y="1372">Boxton Harbour</text></g>
<g id="labrysville" class="n6"><circle cx="1808" cy="1485" r="6"/><text class="d" x="1808" y="1489">6</text><text class="l" x="1815" y="1492">Labrysville</text></g>
<g id="mecca-in-sea" class="n1"><circle cx="1965" cy="1125" r="6"/><text class="d" x="1965" y="1129">1</text><text class="l m" x="1963" y="1114">Mecca-in-Sea</text></g>
<g id="new-tosa" class="n1"><circle cx="2115" cy="1125" r="6"/><text class="d" x="2115" y="1129">1</text><text class="l m" x="2115" y="1113">New Tosa</text></g>
<g id="tindorp" class="n1"><circle cx="2295" cy="1125" r="6"/><text class="d" x="2295" y="1129">1</text><text class="l" x="2309" y="1133">Tindorp</text></g>
<g id="ciuplana" class="n1"><circle cx="1905" cy="1245" r="6"/><text class="d" x="1905" y="1249">1</text><text class="l m" x="1904" y="1268">Ciuplana</text></g>
<g id="durrton" class="n17"><circle cx="3172" cy="105" r="6"/><text class="d t" x="3171.5" y="109">17</text><text class="l e" x="3161" y="112">Durrton</text></g>
<g id="reebrucken" class="n17"><circle cx="3172" cy="165" r="6"/><text class="d t" x="3171.5" y="169">17</text><text class="l e" x="3162" y="173">Reebrucken</text></g>
<g id="missingno" class="n17"><circle cx="3172" cy="225" r="6"/><text class="d t" x="3171.5" y="229">17</text><text class="l e" x="3163" y="232">Missingno.</text></g>
<g id="waachening" class="n17"><circle cx="3172" cy="285" r="6"/><text class="d t" x="3171.5" y="289">17</text><text class="l e" x="3164" y="291">Waachening</text></g>
<g id="waachening-nyxtemple" class="n17"><circle cx="3172" cy="345" r="6"/><text class="d t" x="3171.5" y="349">17</text><text class="l e" x="3161" y="353">Waachening Nyxtemple</text></g>
<g id="djerba" class="n17"><circle cx="3172" cy="405" r="6"/><text class="d t" x="3171.5" y="409">17</text><text class="l e" x="3162" y="413">Djerba</text></g>
<g id="bain-island" class="n17"><circle cx="3172" cy="466" r="6"/><text class="d t" x="3171.5" y="470">17</text><text class="l" x="3182" y="478">Bain Island</text></g>
<g id="poseidonea" class="n17"><circle cx="3172" cy="555" r="6"/><text class="d t" x="3171.5" y="559">17</text><text class="l" x="3182" y="563">Poseidonea</text></g>
<g id="waachening-14" class="n14"><circle cx="3185" cy="285" r="6"/><circle class="i" cx="3185" cy="285" r="4.6"/><text class="d t" x="3184.5" y="289">14</text></g>
<g id="smithsville" class="n14"><circle cx="3316" cy="285" r="6"/><circle class="i" cx="3316" cy="285" r="4.6"/><text class="d t" x="3315.5" y="289">14</text><text class="l m" x="3315" y="272">Smithsville</text></g>
<g id="sprucewarren" class="n14"><circle cx="3436" cy="285" r="6"/><circle class="i" cx="3436" cy="285" r="4.6"/><text class="d t" x="3435.5" y="289">14</text><text class="l m" x="3434" y="310">Sprucewarren</text></g>
<g id="icefire-14" class="n14"><circle cx="3556" cy="285" r="6"/><circle class="i" cx="3556" cy="285" r="4.6"/><text class="d t" x="3555.5" y="289">14</text></g>
<g id="icefire" class="n4"><circle cx="3569" cy="285" r="6"/><text class="d" x="3569" y="289">4</text><text class="l" x="3581" y="291">Icefire Interchange</text></g>
<g id="balamory" class="n4"><circle cx="3569" cy="105" r="6"/><text class="d" x="3569" y="109">4</text><text class="l" x="3581" y="111">Balamory / Baile Mhoire</text></g>
<g id="balfallough" class="n4"><circle cx="3569" cy="165" r="6"/><text class="d" x="3569" y="169">4</text><text class="l" x="3581" y="171">Balfallough</text></g>
</g>
<text id="copyright" x="6" y="2600" fill="#fff" font-size="20" font-weight="700" style="font-family:'Liberation Sans',sans-serif">© CC0 Public Domain</text>
</svg>
